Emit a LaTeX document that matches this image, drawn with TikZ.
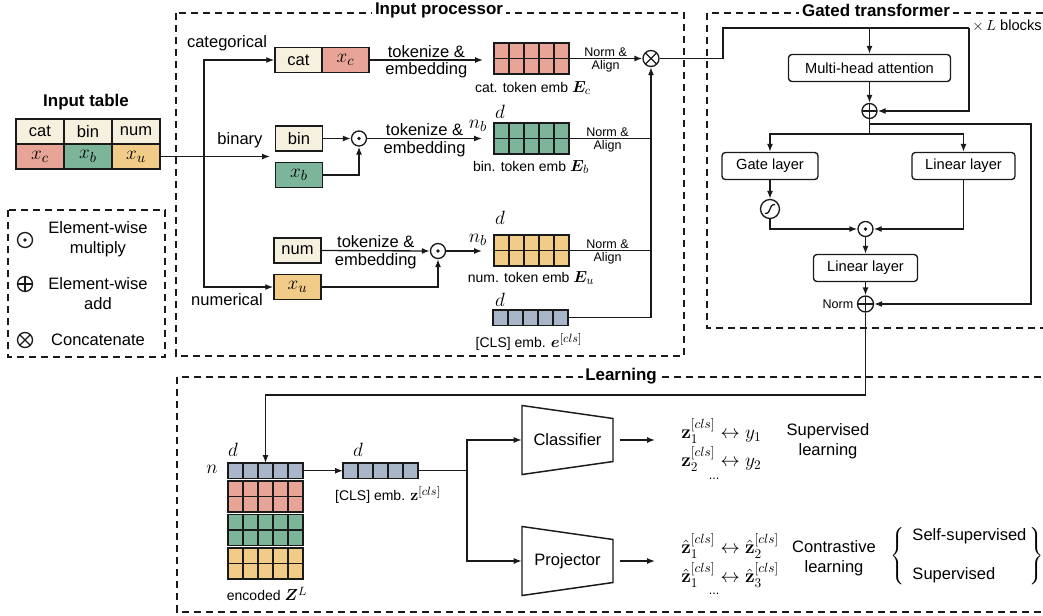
\documentclass[tikz,border=0pt]{standalone}
\usepackage{amsmath}
\usepackage{bm}
\usepackage[no-math]{fontspec}
\setmainfont{Liberation Sans}
\usetikzlibrary{arrows.meta,calc}
\definecolor{cream}{HTML}{F6F1DF}
\definecolor{salmon}{HTML}{E8A597}
\definecolor{greenc}{HTML}{7DB59B}
\definecolor{yellowc}{HTML}{F1CB88}
\definecolor{grayc}{HTML}{A9B5C9}
\definecolor{linec}{HTML}{1A1A1A}
\newcommand\fMain{\fontsize{12.4}{15}\selectfont}
\newcommand\fSmall{\fontsize{9.4}{11}\selectfont}
\newcommand\fMed{\fontsize{10.5}{12.5}\selectfont}
\newcommand\fBox{\fontsize{11}{13}\selectfont}
\newcommand\fTitle{\fontsize{12.7}{15}\selectfont\bfseries}
\newcommand\MB[1]{{\fontsize{15}{17}\selectfont$#1$}}
\newcommand\MS[1]{{\fontsize{13}{15}\selectfont$#1$}}
\newcommand\ML[1]{{\fontsize{14.5}{17}\selectfont$#1$}}
\tikzset{
  cellbox/.style={draw=linec, line width=1.1pt, inner sep=0pt, minimum width=47*0.75pt, minimum height=25*0.75pt, font=\fMain},
  tbox/.style={draw=linec, line width=1pt, rounded corners=2.5pt, inner sep=0pt, font=\fBox, minimum height=27*0.75pt},
  opc/.style={circle, draw=linec, line width=1pt, inner sep=0pt, minimum size=15*0.75pt},
  odot/.style={opc, path picture={\fill[linec] (path picture bounding box.center) circle (1.4pt);}},
  oplus/.style={opc, path picture={\draw[linec,line width=1pt] (path picture bounding box.north) -- (path picture bounding box.south) (path picture bounding box.west) -- (path picture bounding box.east);}},
  otimes/.style={opc, path picture={\draw[linec,line width=1pt] (path picture bounding box.north west) -- (path picture bounding box.south east) (path picture bounding box.south west) -- (path picture bounding box.north east);}},
  arr/.style={-{Latex[length=6pt,width=4.5pt]}, line width=1pt, draw=linec},
  ln/.style={line width=1pt, draw=linec},
  cellln/.style={line width=0.9pt, draw=linec},
  dbox/.style={draw=linec, line width=1pt, dash pattern=on 5.5pt off 3.5pt},
  ttl/.style={font=\fTitle, fill=white, inner sep=2pt},
  lbl/.style={font=\fMain, inner sep=1.5pt},
  sm/.style={font=\fSmall, inner sep=1pt},
  md/.style={font=\fMed, inner sep=1pt},
  trap/.style={draw=linec, line width=1.1pt},
}
\newcommand\embgrid[6]{%
  \foreach \ci in {1,...,#4}{\foreach \rj in {1,...,#5}{%
    \draw[cellln, fill=#6] ({#2+(\ci-1)*15},{#3+(\rj-1)*15.5}) rectangle ++(15,15.5);}}%
  \node[inner sep=0pt, outer sep=0pt, minimum width=#4*15*0.75pt, minimum height=#5*15.5*0.75pt, anchor=north west] (#1) at (#2,#3) {};}
\begin{document}
\begin{tikzpicture}[x=0.75pt,y=-0.75pt,font=\fMain]
\useasboundingbox (0,0) rectangle (1043,615);
\fill[white] (0,0) rectangle (1043,615);
% dashed frames
\draw[dbox] (176,13) rectangle (684,356);
\draw[dbox] (707,13) rectangle (1052,328);
\draw[dbox] (177,377) rectangle (1052,612);
\draw[dbox] (8,210) rectangle (165,357);
\node[ttl] (tIP) at (439,10) {Input processor};
\node[ttl] (tGT) at (876,10) {Gated transformer};
\node[ttl] (tL) at (621,376) {Learning};
\node[font=\fTitle] (tIT) at (86,102) {Input table};
% input table
\node[cellbox, fill=cream, minimum width=48*0.75pt] (tcat) at (40,131.5) {cat};
\node[cellbox, fill=cream, minimum width=48*0.75pt] (tbin) at (88,131.5) {bin};
\node[cellbox, fill=cream, minimum width=48*0.75pt] (tnum) at (136,131.5) {num};
\node[cellbox, fill=salmon, minimum width=48*0.75pt] (txc) at (40,156.5) {\MB{x_c}};
\node[cellbox, fill=greenc, minimum width=48*0.75pt] (txb) at (88,156.5) {\MB{x_b}};
\node[cellbox, fill=yellowc, minimum width=48*0.75pt] (txu) at (136,156.5) {\MB{x_u}};
% legend
\node[odot] (lg1) at (25,240) {};
\node[oplus] (lg2) at (25,284) {};
\node[otimes] (lg3) at (25,340) {};
\node[lbl, align=center] (lg1t) at (98,239) {Element-wise\\multiply};
\node[lbl, align=center] (lg2t) at (98,294) {Element-wise\\add};
\node[lbl] (lg3t) at (98,340) {Concatenate};
% input processor boxes
\node[cellbox, fill=cream] (catb) at (298.5,60) {cat};
\node[cellbox, fill=salmon] (xcb) at (345.5,60) {\MB{x_c}};
\node[cellbox, fill=cream] (binb) at (299,138.5) {bin};
\node[cellbox, fill=greenc] (xbb) at (299,175) {\MB{x_b}};
\node[cellbox, fill=cream] (numb) at (297.5,250.5) {num};
\node[cellbox, fill=yellowc] (xub) at (297.5,287) {\MB{x_u}};
\node[odot] (dotb) at (359,138.5) {};
\node[odot] (dotn) at (438,251) {};
\node[lbl] (lcat) at (227,43) {categorical};
\node[lbl] (lbinr) at (240,140) {binary};
\node[lbl] (lnum) at (227,300) {numerical};
\coordinate (junc) at (204,156.5);
\coordinate (binend) at (270,156.5);
\draw[arr] (txu.east) -- (binend);
\draw[arr] (junc) |- (catb.west);
\draw[arr] (junc) |- (xub.west);
% token grids
\embgrid{catE}{494}{43}{5}{2}{salmon}
\embgrid{binE}{494}{123}{5}{2}{greenc}
\embgrid{numE}{494}{235}{5}{2}{yellowc}
\embgrid{clsE}{493}{310}{5}{1}{grayc}
\coordinate (catin) at (483,60);
\coordinate (binin) at (482,138.5);
\coordinate (numin) at (482,251);
\draw[arr] (xcb.east) -- node[lbl, above]{tokenize \&} node[lbl, below]{embedding} (catin);
\draw[arr] (binb.east) -- (dotb.west);
\draw[arr] (xbb.east) -| (dotb.south);
\draw[arr] (dotb.east) -- node[lbl, above]{tokenize \&} node[lbl, below]{embedding} (binin);
\draw[arr] (numb.east) -- node[lbl, above]{tokenize \&} node[lbl, below]{embedding} (dotn.west);
\draw[arr] (xub.east) -| (dotn.south);
\draw[arr] (dotn.east) -- (numin);
\node[lbl] (nb1) at (478,126) {\MB{n_b}};
\node[lbl] (d1) at (500,112) {\MB{d}};
\node[lbl] (nb2) at (478,240) {\MB{n_b}};
\node[lbl] (d2) at (500,218) {\MB{d}};
\node[lbl] (d3) at (500,300) {\MB{d}};
\node[md] (lce) at (533,88) {cat. token emb \MS{\bm{E}_c}};
\node[md] (lbe) at (531,167) {bin. token emb \MS{\bm{E}_b}};
\node[md] (lne) at (531,278) {num. token emb \MS{\bm{E}_u}};
\node[md] (lcl) at (529,342) {[CLS] emb. \MS{\bm{e}^{[cls]}}};
% concat
\node[otimes, minimum size=16*0.75pt] (cc) at (651,58.5) {};
\draw[arr] (catE.east) -- node[sm, above]{Norm \&} node[sm, below]{Align} (cc.west);
\draw[ln] (binE.east) -- node[sm, above, pos=0.47]{Norm \&} node[sm, below, pos=0.47]{Align} (binE.east -| cc.south);
\draw[ln] (numE.east) -- node[sm, above, pos=0.47]{Norm \&} node[sm, below, pos=0.47]{Align} (numE.east -| cc.south);
\draw[arr] (clsE.east) -| (cc.south);
% gated transformer
\node[tbox, minimum width=162*0.75pt] (mha) at (869.5,68) {Multi-head attention};
\node[oplus] (add1) at (869.5,111) {};
\node[tbox, minimum width=96*0.75pt] (gate) at (770,166) {Gate layer};
\node[tbox, minimum width=103*0.75pt] (lin1) at (963.5,166) {Linear layer};
\node[opc, minimum size=19*0.75pt] (sig) at (770,209) {};
\draw[ln] ($(sig.center)+(-5,4.5)$) .. controls ($(sig.center)+(2,4.5)$) and ($(sig.center)+(-2,-4.5)$) .. ($(sig.center)+(5,-4.5)$);
\node[odot] (dotg) at (865.5,229) {};
\node[tbox, minimum width=104*0.75pt] (lin2) at (865.5,268) {Linear layer};
\node[oplus, minimum size=16*0.75pt] (norm) at (865.5,304) {};
\node[sm, anchor=east] (normlbl) at ($(norm.west)+(-2,0)$) {Norm};
\node[font=\fBox, anchor=east, inner sep=0pt] (blocks) at (1042,26) {$\times\, L$ blocks};
\coordinate (g1) at (723,58.5);
\coordinate (g2) at (723,28);
\coordinate (res1) at (969,28);
\coordinate (br) at (869.5,134);
\coordinate (r2a) at (869.5,124);
\coordinate (r2b) at (1031,124);
\draw[ln] (cc.east) -- (g1) -- (g2) -- (res1);
\draw[arr] (mha.north |- g2) -- (mha.north);
\draw[arr] (res1) |- (add1.east);
\draw[arr] (mha.south) -- (add1.north);
\draw[ln] (add1.south) -- (br);
\draw[arr] (br) -| (gate.north);
\draw[arr] (br) -| (lin1.north);
\draw[arr] (r2a) -- (r2b) |- (norm.east);
\draw[arr] (gate.south) -- (sig.north);
\draw[arr] (sig.south) |- (dotg.west);
\draw[arr] (lin1.south) |- (dotg.east);
\draw[arr] (dotg.south) -- (lin2.north);
\draw[arr] (lin2.south) -- (norm.north);
% learning
\embgrid{zc}{228}{463}{5}{1}{grayc}
\embgrid{zs}{228}{481}{5}{2}{salmon}
\embgrid{zg}{228}{514.5}{5}{2}{greenc}
\embgrid{zy}{228}{548}{5}{2}{yellowc}
\embgrid{zcls}{343}{463}{5}{1}{grayc}
\coordinate (zturn) at (265.5,395);
\draw[arr] (norm.south) |- (zturn) -- (zturn |- zc.north);
\node[lbl] (dz) at (233,450) {\MB{d}};
\node[lbl] (nz) at (212,469) {\MB{n}};
\node[lbl] (dcls) at (358,450) {\MB{d}};
\node[md] (lenc) at (267,594) {encoded \MS{\bm{Z}^L}};
\node[md] (lzcls) at (388,495) {[CLS] emb. \MS{\mathbf{z}^{[cls]}}};
\draw[arr] (zc.east) -- (zcls.west);
\coordinate (split) at (467,470.75);
\draw[ln] (zcls.east) -- (split);
\node[lbl, minimum width=91*0.75pt, minimum height=69*0.75pt, inner sep=0pt] (clf) at (567.5,440) {Classifier};
\node[lbl, minimum width=91*0.75pt, minimum height=69*0.75pt, inner sep=0pt] (proj) at (567.5,561) {Projector};
\draw[trap] ($(clf.center)+(-45.5,-34.5)$) -- ($(clf.center)+(45.5,-21.5)$) -- ($(clf.center)+(45.5,21.5)$) -- ($(clf.center)+(-45.5,34.5)$) -- cycle;
\draw[trap] ($(proj.center)+(-45.5,-34.5)$) -- ($(proj.center)+(45.5,-21.5)$) -- ($(proj.center)+(45.5,21.5)$) -- ($(proj.center)+(-45.5,34.5)$) -- cycle;
\draw[arr] (split) |- (clf.west);
\draw[arr] (split) |- (proj.west);
\coordinate (o1) at (655,440);
\coordinate (o2) at (655,561);
\draw[arr, shorten <=5pt] (clf.east) -- (o1);
\draw[arr, shorten <=5pt] (proj.east) -- (o2);
\node[lbl, anchor=west, inner sep=0pt] (s1) at (681,431) {\ML{\mathbf{z}_1^{[cls]} \leftrightarrow y_1}};
\node[lbl, anchor=west, inner sep=0pt] (s2) at (681,459) {\ML{\mathbf{z}_2^{[cls]} \leftrightarrow y_2}};
\node[sm] (s3) at (714,479) {...};
\node[lbl, align=center] (sup) at (828,441) {Supervised\\learning};
\node[lbl, anchor=west, inner sep=0pt] (c1) at (681,546) {\ML{\hat{\mathbf{z}}_1^{[cls]} \leftrightarrow \hat{\mathbf{z}}_2^{[cls]}}};
\node[lbl, anchor=west, inner sep=0pt] (c2) at (681,575) {\ML{\hat{\mathbf{z}}_1^{[cls]} \leftrightarrow \hat{\mathbf{z}}_3^{[cls]}}};
\node[sm] (c3) at (714,594) {...};
\node[lbl, align=center] (contr) at (834,558) {Contrastive\\learning};
\node[lbl, anchor=west, inner sep=0pt] (brc) at (890,556) {$\left\{\begin{tabular}{@{\hspace{6pt}}l@{\hspace{2pt}}}Self-supervised\\[14pt]Supervised\end{tabular}\right\}$};
\end{tikzpicture}
\end{document}
